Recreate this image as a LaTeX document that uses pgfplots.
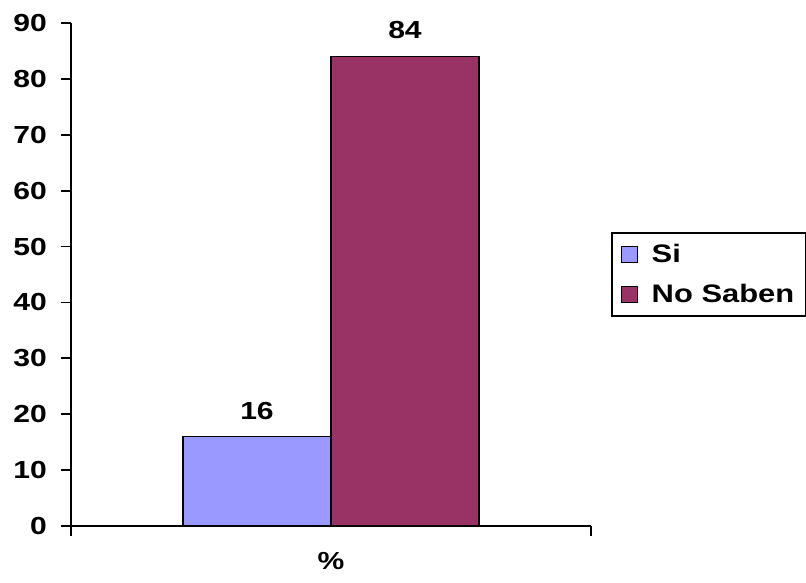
\documentclass[border=0pt]{standalone}
\usepackage{fontspec}
\setmainfont[FakeStretch=1.22]{Liberation Sans}
\usepackage{pgfplots}
\pgfplotsset{compat=1.18}
\definecolor{siblue}{HTML}{9999FF}
\definecolor{nored}{HTML}{993366}
\newcommand{\cf}{\bfseries\fontsize{18.5}{21}\selectfont}
\newcommand{\lf}{\bfseries\fontsize{19}{22}\selectfont}
\begin{document}
\begin{tikzpicture}[x=1pt,y=1pt]
\useasboundingbox (-53.25,-42) rectangle (551.25,394.5);
\begin{axis}[
  at={(0,0)}, anchor=south west,
  scale only axis, width=390pt, height=377.25pt,
  xmin=-1, xmax=1, ymin=0, ymax=90,
  axis lines=left,
  axis line style={line width=1.5pt,-},
  ybar=0pt, bar width=111pt,
  xtick={-1,1}, xticklabels={,},
  ytick={0,10,...,90},
  tick align=outside, major tick length=7.5pt,
  tick style={black, line width=1.3pt},
  ticklabel style={font=\cf},
  yticklabel style={xshift=-7pt},
  /pgf/number format/assume math mode=true,
  xlabel={\%},
  xlabel style={font=\cf, at={(axis description cs:0.5,0)}, anchor=north, yshift=-16pt},
  nodes near coords,
  nodes near coords style={font=\cf, anchor=south, yshift=9pt},
  legend style={at={(1,0.5)}, anchor=west, xshift=15pt, draw=black, line width=1.5pt,
    font=\lf, inner xsep=7pt, inner ysep=6pt, row sep=11pt, column sep=8pt},
  legend cell align=left,
  legend image code/.code={\draw[#1, line width=0.8pt] (0pt,-6pt) rectangle (12pt,6pt);},
]
\addplot[fill=siblue, draw=black, line width=1.3pt] coordinates {(0,16)};
\addplot[fill=nored, draw=black, line width=1.3pt] coordinates {(0,84)};
\legend{Si, No Saben}
\end{axis}
\end{tikzpicture}
\end{document}
